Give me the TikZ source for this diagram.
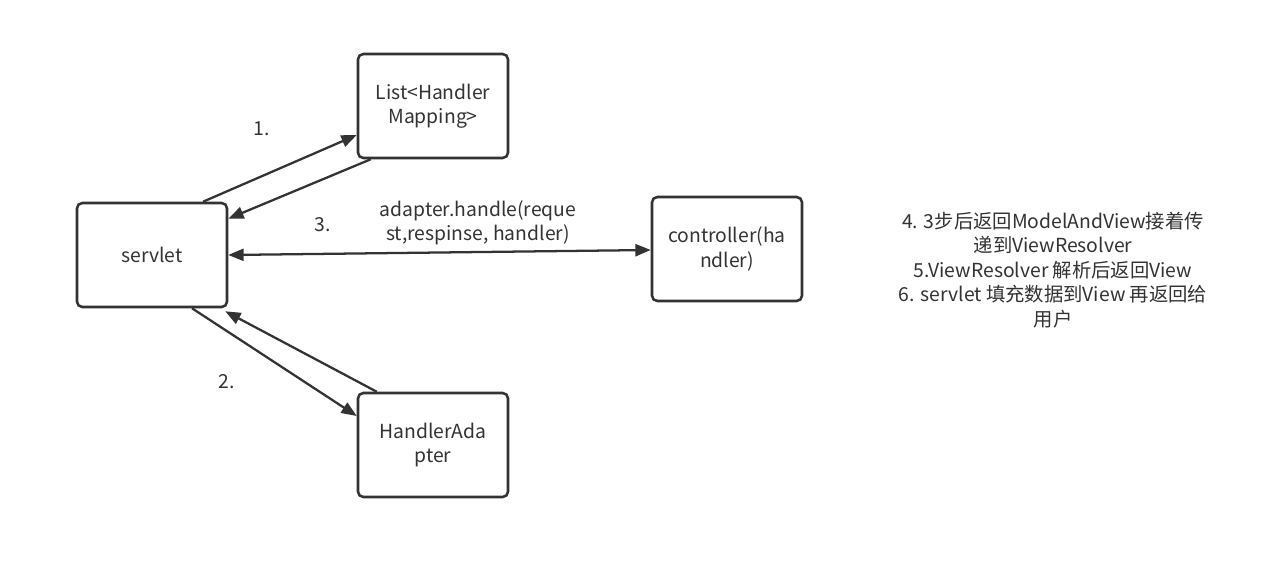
\documentclass[tikz,border=0pt]{standalone}
\usepackage{fontspec}
\setmainfont{Noto Sans CJK SC}
\usetikzlibrary{arrows.meta,calc}
\definecolor{ink}{HTML}{333333}
\begin{document}
\begin{tikzpicture}[x=0.75pt,y=-0.75pt,
  box/.style={draw=ink,line width=1.9pt,rounded corners=4pt,minimum width=112.5pt,minimum height=78pt,inner sep=0pt,align=center,text=ink,font=\fontsize{14.5pt}{18.4pt}\selectfont},
  lbl/.style={text=ink,align=center,inner sep=0pt,font=\fontsize{14.5pt}{18.4pt}\selectfont},
  conn/.style={draw=ink,line width=1.7pt,-{Triangle[length=11.5pt,width=9pt]}},
  dconn/.style={draw=ink,line width=1.7pt,{Triangle[length=11.5pt,width=9pt]}-{Triangle[length=11.5pt,width=9pt]}}]
\useasboundingbox[fill=white] (0,0) rectangle (1276,588);
\node[box] (list) at (433,106) {List<Handler\\Mapping>};
\node[box] (servlet) at (152,255) {servlet};
\node[box] (ctrl) at (727,249) {controller(ha\\ndler)};
\node[box] (adapter) at (433,445) {HandlerAda\\pter};
\draw[conn] ($(servlet.north)+(51,0)$) -- ($(list.west)+(0,29)$);
\draw[conn] ($(list.south west)+(14,0)$) -- ($(servlet.north east)+(0,17)$);
\draw[dconn] (servlet.east) -- ($(ctrl.west)+(0,1)$);
\draw[conn] ($(servlet.south)+(40,0)$) -- ($(adapter.west)+(0,-29)$);
\draw[conn] ($(adapter.north west)+(20,0)$) -- ($(servlet.south east)+(-3,3)$);
\node[lbl] (l1) at (262,129) {1.};
\node[lbl] (l3) at (323,225) {3.};
\node[lbl] (l2) at (227,382) {2.};
\node[lbl] (call) at (478,223) {adapter.handle(reque\\st,respinse, handler)};
\node[lbl] (note) at (1053,270) {4. 3步后返回ModelAndView接着传\\递到ViewResolver\\5.ViewResolver 解析后返回View\\6. servlet 填充数据到View 再返回给\\用户};
\end{tikzpicture}
\end{document}
